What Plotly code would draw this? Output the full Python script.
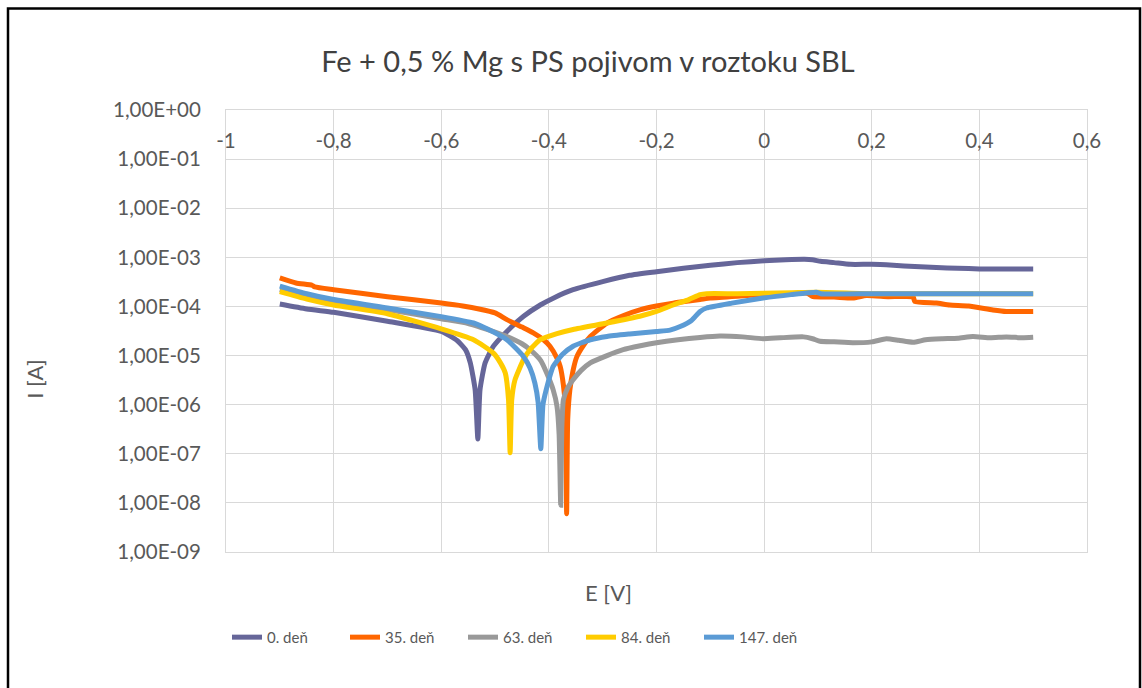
import plotly.graph_objects as go

# ---------------- data ----------------
series_names = ["0. deň", "35. deň", "63. deň", "84. deň", "147. deň"]
series_colors = ["#666699", "#FF6600", "#999999", "#FFCC00", "#5B9BD5"]

E_d0 = [-0.9, -0.85, -0.8, -0.7, -0.6, -0.57, -0.555, -0.546, -0.537, -0.532, -0.528, -0.5185,
        -0.503, -0.478, -0.447, -0.416, -0.39, -0.355, -0.3, -0.25, -0.2, -0.15, -0.1, -0.05,
        0.0, 0.04, 0.075, 0.09, 0.105, 0.13, 0.16, 0.2, 0.24, 0.28, 0.32, 0.36, 0.4, 0.45, 0.5]
I_d0 = [1.12e-4, 8.9e-5, 7.6e-5, 5.0e-5, 3.1e-5, 2.0e-5, 1.32e-5, 7.1e-6, 2.0e-6, 2.0e-7, 2.0e-6, 7.1e-6,
        1.55e-5, 3.1e-5, 6.3e-5, 1.07e-4, 1.51e-4, 2.19e-4, 3.2e-4, 4.3e-4, 5.1e-4, 6.0e-4, 6.9e-4, 7.8e-4,
        8.5e-4, 8.9e-4, 9.1e-4, 8.9e-4, 8.3e-4, 7.8e-4, 7.2e-4, 7.2e-4, 6.9e-4, 6.5e-4, 6.2e-4, 6.0e-4, 5.8e-4, 5.8e-4, 5.8e-4]

E_d35 = [-0.9, -0.87, -0.84, -0.835, -0.8, -0.7, -0.6, -0.56, -0.53, -0.5, -0.478, -0.45, -0.429, -0.41,
         -0.398, -0.385, -0.379, -0.373, -0.369, -0.367, -0.365, -0.361, -0.355, -0.348, -0.335,
         -0.323, -0.292, -0.26, -0.231, -0.2, -0.169, -0.14, -0.119, -0.1, -0.05, 0.0, 0.05, 0.08,
         0.091, 0.13, 0.165, 0.19, 0.23, 0.277, 0.28, 0.32, 0.345, 0.38, 0.425, 0.45, 0.5]
I_d35 = [3.8e-4, 3.0e-4, 2.7e-4, 2.5e-4, 2.19e-4, 1.58e-4, 1.17e-4, 1.02e-4, 8.9e-5, 7.4e-5, 5.4e-5, 3.8e-5, 2.9e-5, 2.1e-5,
         1.55e-5, 8.9e-6, 6.0e-6, 2.5e-6, 8.0e-7, 6.0e-9, 5.0e-7, 2.0e-6, 5.0e-6, 9.5e-6, 1.66e-5,
         2.45e-5, 4.6e-5, 6.6e-5, 8.5e-5, 1.02e-4, 1.17e-4, 1.29e-4, 1.38e-4, 1.48e-4, 1.62e-4, 1.74e-4, 1.82e-4, 1.86e-4,
         1.58e-4, 1.55e-4, 1.48e-4, 1.66e-4, 1.58e-4, 1.55e-4, 1.26e-4, 1.17e-4, 1.07e-4, 1.02e-4, 8.5e-5, 7.9e-5, 7.9e-5]

E_d63 = [-0.9, -0.85, -0.8, -0.7, -0.6, -0.55, -0.5, -0.478, -0.45, -0.435, -0.415, -0.404, -0.392,
         -0.385, -0.381, -0.378, -0.376, -0.373, -0.365, -0.355, -0.34, -0.323, -0.292, -0.262, -0.23,
         -0.2, -0.16, -0.119, -0.082, -0.04, -0.002, 0.03, 0.073, 0.09, 0.104, 0.13, 0.165, 0.2, 0.227,
         0.25, 0.277, 0.3, 0.33, 0.36, 0.388, 0.42, 0.45, 0.48, 0.5]
I_d63 = [2.2e-4, 1.66e-4, 1.26e-4, 8.7e-5, 5.6e-5, 4.5e-5, 3.0e-5, 2.45e-5, 1.74e-5, 1.32e-5, 7.9e-6, 4.4e-6, 2.0e-6,
         9.3e-7, 2.5e-7, 9.0e-9, 3.2e-7, 1.26e-6, 2.2e-6, 3.2e-6, 5.0e-6, 7.1e-6, 1.0e-5, 1.32e-5, 1.58e-5,
         1.82e-5, 2.1e-5, 2.34e-5, 2.5e-5, 2.4e-5, 2.2e-5, 2.3e-5, 2.4e-5, 2.2e-5, 1.95e-5, 1.9e-5, 1.82e-5, 1.9e-5, 2.2e-5,
         2.05e-5, 1.86e-5, 2.1e-5, 2.2e-5, 2.25e-5, 2.45e-5, 2.3e-5, 2.4e-5, 2.3e-5, 2.35e-5]

E_d84 = [-0.9, -0.85, -0.8, -0.7, -0.6, -0.54, -0.503, -0.49, -0.481, -0.475, -0.472, -0.469, -0.463,
         -0.447, -0.435, -0.416, -0.385, -0.355, -0.292, -0.231, -0.2, -0.169, -0.14, -0.119, -0.107,
         -0.05, 0.0, 0.05, 0.097, 0.2, 0.3, 0.4, 0.5]
I_d84 = [2.0e-4, 1.41e-4, 1.07e-4, 7.1e-5, 3.5e-5, 2.1e-5, 1.12e-5, 7.1e-6, 4.4e-6, 1.26e-6, 1.05e-7, 1.26e-6, 3.2e-6,
         8.3e-6, 1.32e-5, 2.1e-5, 2.8e-5, 3.4e-5, 4.6e-5, 6.3e-5, 7.9e-5, 1.07e-4, 1.38e-4, 1.74e-4, 1.82e-4,
         1.82e-4, 1.86e-4, 1.9e-4, 1.95e-4, 1.82e-4, 1.82e-4, 1.82e-4, 1.82e-4]

E_d147 = [-0.9, -0.85, -0.8, -0.7, -0.6, -0.54, -0.515, -0.478, -0.447, -0.435, -0.426, -0.42, -0.415,
          -0.411, -0.405, -0.392, -0.375, -0.355, -0.323, -0.292, -0.25, -0.2, -0.175, -0.156, -0.135,
          -0.119, -0.107, -0.06, -0.002, 0.05, 0.097, 0.105, 0.2, 0.3, 0.4, 0.5]
I_d147 = [2.6e-4, 1.82e-4, 1.38e-4, 9.3e-5, 6.2e-5, 4.6e-5, 3.5e-5, 2.1e-5, 9.5e-6, 5.6e-6, 2.75e-6, 1.12e-6, 1.26e-7,
          1.0e-6, 2.0e-6, 6.0e-6, 1.05e-5, 1.55e-5, 2.1e-5, 2.45e-5, 2.75e-5, 3.1e-5, 3.3e-5, 3.9e-5, 5.2e-5,
          7.9e-5, 9.3e-5, 1.17e-4, 1.48e-4, 1.74e-4, 1.95e-4, 1.82e-4, 1.82e-4, 1.82e-4, 1.82e-4, 1.82e-4]

x_tickvals = [-1, -0.8, -0.6, -0.4, -0.2, 0, 0.2, 0.4, 0.6]
x_ticktext = ["-1", "-0,8", "-0,6", "-0,4", "-0,2", "0", "0,2", "0,4", "0,6"]
y_tickvals = [1e0, 1e-1, 1e-2, 1e-3, 1e-4, 1e-5, 1e-6, 1e-7, 1e-8, 1e-9]
y_ticktext = ["1,00E+00", "1,00E-01", "1,00E-02", "1,00E-03", "1,00E-04",
              "1,00E-05", "1,00E-06", "1,00E-07", "1,00E-08", "1,00E-09"]

title_text = "Fe + 0,5 % Mg s PS pojivom v roztoku SBL"
x_title = "E [V]"
y_title = "I [A]"

# ---------------- figure ----------------
W, H = 1142, 688
L, R, T, B = 226, 55, 110, 135.5
FONT = "Lato"
TXT = "#595959"
GRID = "#D9D9D9"

all_E = [E_d0, E_d35, E_d63, E_d84, E_d147]
all_I = [I_d0, I_d35, I_d63, I_d84, I_d147]

fig = go.Figure()
for name, col, ex, iy in zip(series_names, series_colors, all_E, all_I):
    fig.add_trace(go.Scatter(x=ex, y=iy, mode="lines", name=name,
                             line=dict(color=col, width=5, shape="spline", smoothing=0.5)))

pw = W - L - R
ph = H - T - B


def px2paper_x(px):
    return (px - L) / pw


def px2paper_y(py):
    return (H - B - py) / ph


fig.update_layout(
    width=W, height=H,
    margin=dict(l=L, r=R, t=T, b=B, autoexpand=False),
    paper_bgcolor="white", plot_bgcolor="white",
    font=dict(family=FONT, color=TXT),
    title=dict(text=title_text, x=588 / W, xanchor="center", xref="container",
               y=1 - 62 / H, yanchor="middle", yref="container",
               font=dict(size=29, color="#404040", family=FONT)),
    showlegend=True,
    legend=dict(orientation="h", x=px2paper_x(227), xanchor="left",
                y=px2paper_y(638), yanchor="middle",
                font=dict(size=15, color=TXT, family=FONT),
                entrywidth=73, entrywidthmode="pixels",
                bgcolor="rgba(0,0,0,0)"),
    xaxis=dict(range=[-1, 0.6], tickvals=x_tickvals, ticktext=x_ticktext,
               side="top", ticklabelposition="inside", ticklabeloverflow="allow",
               ticklabelstandoff=25,
               showgrid=True, gridcolor=GRID, gridwidth=1,
               showline=True, linecolor=GRID, linewidth=1, mirror=True,
               zeroline=False, ticks="", tickfont=dict(size=20.5, color=TXT, family=FONT)),
    yaxis=dict(type="log", range=[-9, 0], tickvals=y_tickvals, ticktext=y_ticktext,
               showgrid=True, gridcolor=GRID, gridwidth=1,
               showline=True, linecolor=GRID, linewidth=1, mirror=True,
               zeroline=False, ticks="", ticklabelstandoff=20,
               tickfont=dict(size=20.5, color=TXT, family=FONT)),
)

fig.add_annotation(text=x_title, xref="paper", yref="paper",
                   x=px2paper_x(608), y=px2paper_y(593), xanchor="center", yanchor="middle",
                   showarrow=False, font=dict(size=22, color=TXT, family=FONT))
fig.add_annotation(text=y_title, xref="paper", yref="paper",
                   x=px2paper_x(35), y=px2paper_y(380), xanchor="center", yanchor="middle",
                   textangle=-90, showarrow=False, font=dict(size=22, color=TXT, family=FONT))

fig.add_shape(type="rect", xref="paper", yref="paper",
              x0=px2paper_x(8), x1=px2paper_x(1140), y0=px2paper_y(705), y1=px2paper_y(8.5),
              line=dict(color="black", width=2.5), fillcolor="rgba(0,0,0,0)", layer="above")

fig.write_html("out.html")
